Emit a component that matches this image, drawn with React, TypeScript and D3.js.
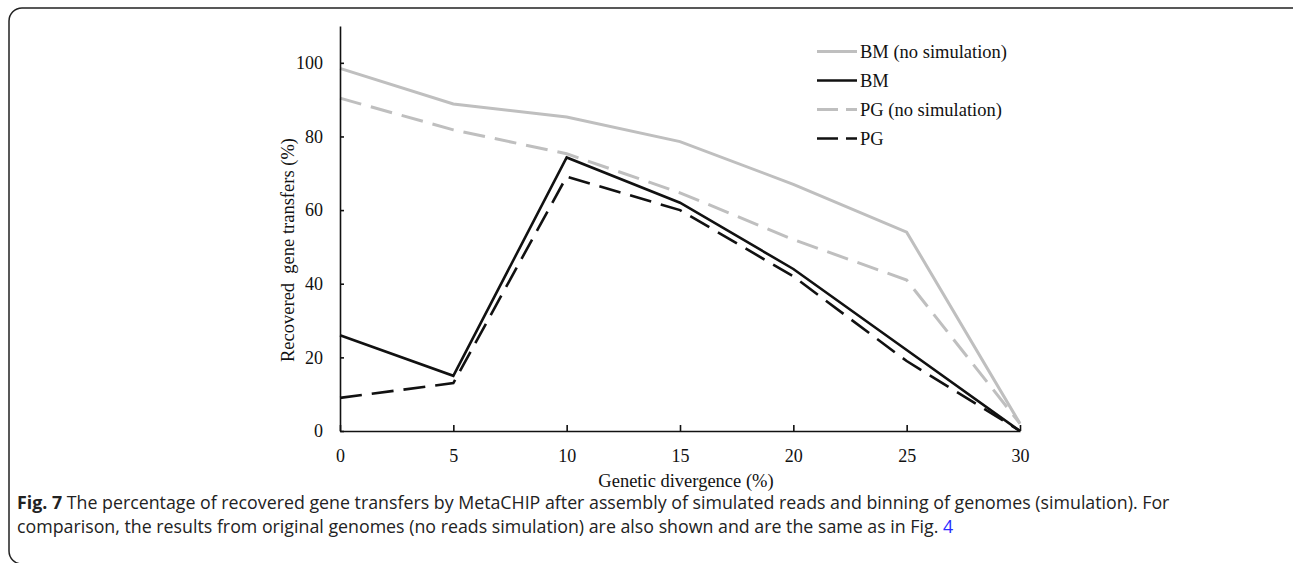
import React, { useRef, useEffect } from 'react';
import * as d3 from 'd3';

const divergence = [0, 5, 10, 15, 20, 25, 30];
const bmNoSim = [98.5, 88.8, 85.3, 78.6, 67, 54, 2];
const bm = [26, 15, 74.3, 62, 44, 22, 0];
const pgNoSim = [90.4, 81.8, 75.3, 64.7, 52, 41, 2];
const pg = [9, 13, 69.1, 60, 42, 19, 0];
const yTicks = [0, 20, 40, 60, 80, 100];
const seriesNames = ['BM (no simulation)', 'BM', 'PG (no simulation)', 'PG'];

const serif = '"Liberation Serif", "Times New Roman", serif';
const sans = '"Open Sans", "Noto Sans", sans-serif';

const styles = [
  { color: '#bfbfbf', width: 3, dash: null },
  { color: '#111', width: 2.6, dash: null },
  { color: '#bfbfbf', width: 3, dash: '22,10' },
  { color: '#111', width: 2.6, dash: '22,10' },
];

export default function App() {
  const svgRef = useRef<SVGSVGElement>(null);

  useEffect(() => {
    const svg = d3.select(svgRef.current);
    const x = d3.scaleLinear().domain([0, 30]).range([340, 1020]);
    const y = d3.scaleLinear().domain([0, 110]).range([431, 26]);

    const xAxis = d3.axisBottom(x).tickValues(divergence).tickSizeInner(-6).tickSizeOuter(0).tickPadding(18);
    const yAxis = d3.axisLeft(y).tickValues(yTicks).tickSizeInner(-4).tickSizeOuter(0).tickPadding(17);

    const gx = svg.select<SVGGElement>('.x-axis').attr('transform', 'translate(0,431)').call(xAxis);
    const gy = svg.select<SVGGElement>('.y-axis').attr('transform', 'translate(340,0)').call(yAxis);
    [gx, gy].forEach(g => {
      g.selectAll('path, line').attr('stroke', '#111').attr('stroke-width', 1.6);
      g.selectAll('text').attr('font-family', serif).attr('font-size', 18).attr('fill', '#111');
    });

    const line = d3.line<number>()
      .x((d, i) => x(divergence[i]))
      .y(d => y(d));

    const all = [bmNoSim, bm, pgNoSim, pg];
    svg.select('.lines')
      .selectAll('path')
      .data(all)
      .join('path')
      .attr('d', d => line(d))
      .attr('fill', 'none')
      .attr('stroke', (d, i) => styles[i].color)
      .attr('stroke-width', (d, i) => styles[i].width)
      .attr('stroke-dasharray', (d, i) => styles[i].dash)
      .attr('stroke-linejoin', 'miter');

    const legend = svg.select('.legend')
      .selectAll('g')
      .data(seriesNames)
      .join('g')
      .attr('transform', (d, i) => `translate(817,${51.5 + i * 29})`);
    legend.selectAll('line').data((d, i) => [i]).join('line')
      .attr('x1', 0).attr('x2', 40).attr('y1', 0).attr('y2', 0)
      .attr('stroke', i => styles[i].color)
      .attr('stroke-width', i => styles[i].width)
      .attr('stroke-dasharray', i => (styles[i].dash ? '21,8,12' : null));
    legend.selectAll('text').data(d => [d]).join('text')
      .attr('x', 43).attr('y', 6.5)
      .attr('font-family', serif).attr('font-size', 18.5).attr('fill', '#111')
      .text(d => d);
  }, []);

  return (
    <svg ref={svgRef} width={1293} height={563} style={{ position: 'absolute', left: 0, top: 0 }}>
      <rect width={1293} height={563} fill="#fff" />
      <rect x={9} y={8} width={1300} height={556} rx={13} ry={13} fill="none" stroke="#222" strokeWidth={1.5} />
      <g className="lines" />
      <g className="x-axis" />
      <g className="y-axis" />
      <g className="legend" />
      <text x={294} y={250} transform="rotate(-90,294,250)" textAnchor="middle" fontFamily={serif} fontSize={18.5} fill="#111" xmlSpace="preserve">
        {'Recovered  gene transfers (%)'}
      </text>
      <text x={686} y={487} textAnchor="middle" fontFamily={serif} fontSize={18.5} fill="#111">
        Genetic divergence (%)
      </text>
      <text x={17} y={509} fontFamily={sans} fontSize={17.8} fill="#222">
        <tspan fontWeight="bold">Fig. 7</tspan>
        {' The percentage of recovered gene transfers by MetaCHIP after assembly of simulated reads and binning of genomes (simulation). For'}
      </text>
      <text x={17} y={533} fontFamily={sans} fontSize={17.8} fill="#222">
        comparison, the results from original genomes (no reads simulation) are also shown and are the same as in Fig. <tspan fill="#2a2aff">4</tspan>
      </text>
    </svg>
  );
}
